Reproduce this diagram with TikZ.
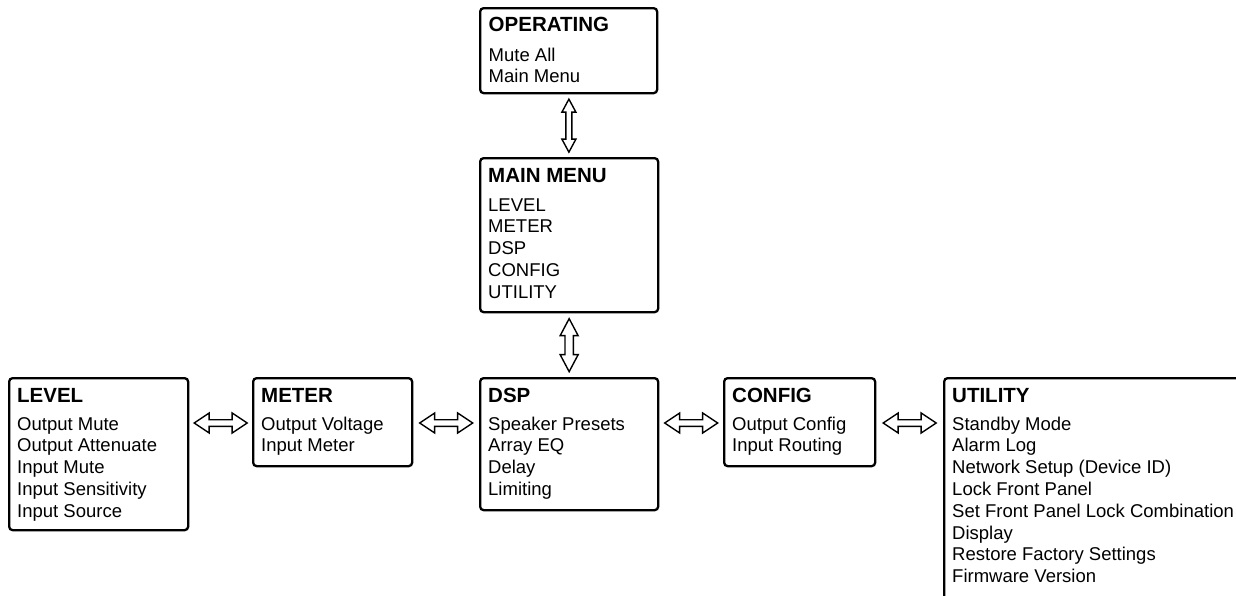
\documentclass[tikz,border=0pt]{standalone}
\usepackage{fontspec}
\setmainfont{Liberation Sans}
\usetikzlibrary{calc}
\tikzset{
  menubox/.style={draw, line width=2.3pt, rounded corners=3.5pt, inner sep=0pt, anchor=north west},
  ttl/.style={font=\fontsize{20.5}{24}\selectfont\bfseries, inner sep=0pt, anchor=base west},
  bod/.style={font=\fontsize{18.5}{21.8}\selectfont, align=left, inner sep=0pt, anchor=base west},
  dar/.style={draw, line width=1.4pt, line join=miter, fill=white}
}
% #1,#2 nodes; #3 head half-width; #4 shaft half-width; #5 head length
\newcommand{\hdblarrow}[5]{%
  \draw[dar] ($($(#1.north east)!0.5!(#2.north west)$)+(-26.5,46)$)
    -- ++(#5,-#3) -- ++(0,#3-#4) -- ++(53-2*#5,0) -- ++(0,#4-#3) -- ++(#5,#3)
    -- ++(-#5,#3) -- ++(0,#4-#3) -- ++(2*#5-53,0) -- ++(0,#3-#4) -- cycle;}
\newcommand{\vdblarrow}[5]{%
  \draw[dar] ($($(#1.south)!0.5!(#2.north)$)+(0,-26.5)$)
    -- ++(#3,#5) -- ++(#4-#3,0) -- ++(0,53-2*#5) -- ++(#3-#4,0) -- ++(-#3,#5)
    -- ++(-#3,-#5) -- ++(#3-#4,0) -- ++(0,2*#5-53) -- ++(#4-#3,0) -- cycle;}
\begin{document}
\begin{tikzpicture}[x=1pt,y=-1pt]
\useasboundingbox (0,0) rectangle (1236,595);
\clip (0,0) rectangle (1236,595);
% boxes
\node[menubox, minimum width=177, minimum height=85] (op) at (479,7) {};
\node[menubox, minimum width=178, minimum height=154] (mm) at (479,157) {};
\node[menubox, minimum width=179, minimum height=152] (lev) at (8,377) {};
\node[menubox, minimum width=159, minimum height=88] (met) at (252,377) {};
\node[menubox, minimum width=178, minimum height=132] (dsp) at (479,377) {};
\node[menubox, minimum width=151, minimum height=88] (cfg) at (723,377) {};
\node[menubox, minimum width=330, minimum height=240] (uti) at (943,377) {};
% titles
\node[ttl] (opT) at ([shift={(9.5,24.5)}]op.north west) {OPERATING};
\node[ttl] (mmT) at ([shift={(9,25.5)}]mm.north west) {MAIN MENU};
\node[ttl] (levT) at ([shift={(9,25)}]lev.north west) {LEVEL};
\node[ttl] (metT) at ([shift={(9,25)}]met.north west) {METER};
\node[ttl] (dspT) at ([shift={(9,25)}]dsp.north west) {DSP};
\node[ttl] (cfgT) at ([shift={(9,25)}]cfg.north west) {CONFIG};
\node[ttl] (utiT) at ([shift={(9,25)}]uti.north west) {UTILITY};
% bodies (base anchor = last line's baseline)
\node[bod] (opB) at ([shift={(9.5,54+1*21.8)}]op.north west) {Mute All\\Main Menu};
\node[bod] (mmB) at ([shift={(9,54+4*21.8)}]mm.north west) {LEVEL\\METER\\DSP\\CONFIG\\UTILITY};
\node[bod] (levB) at ([shift={(9,53+4*21.8)}]lev.north west) {Output Mute\\Output Attenuate\\Input Mute\\Input Sensitivity\\Input Source};
\node[bod] (metB) at ([shift={(9,53+1*21.8)}]met.north west) {Output Voltage\\Input Meter};
\node[bod] (dspB) at ([shift={(9,53+3*21.8)}]dsp.north west) {Speaker Presets\\Array EQ\\Delay\\Limiting};
\node[bod] (cfgB) at ([shift={(9,53+1*21.8)}]cfg.north west) {Output Config\\Input Routing};
\node[bod] (utiB) at ([shift={(9,53+7*21.8)}]uti.north west) {Standby Mode\\Alarm Log\\Network Setup (Device ID)\\Lock Front Panel\\Set Front Panel Lock Combination\\Display\\Restore Factory Settings\\Firmware Version};
% connectors
\vdblarrow{op}{mm}{7}{3}{13}
\vdblarrow{mm}{dsp}{9}{4.2}{17}
\hdblarrow{lev}{met}{10}{3.3}{15}
\hdblarrow{met}{dsp}{10}{3.3}{15}
\hdblarrow{dsp}{cfg}{10}{3.3}{15}
\hdblarrow{cfg}{uti}{10}{3.3}{15}
\end{tikzpicture}
\end{document}
